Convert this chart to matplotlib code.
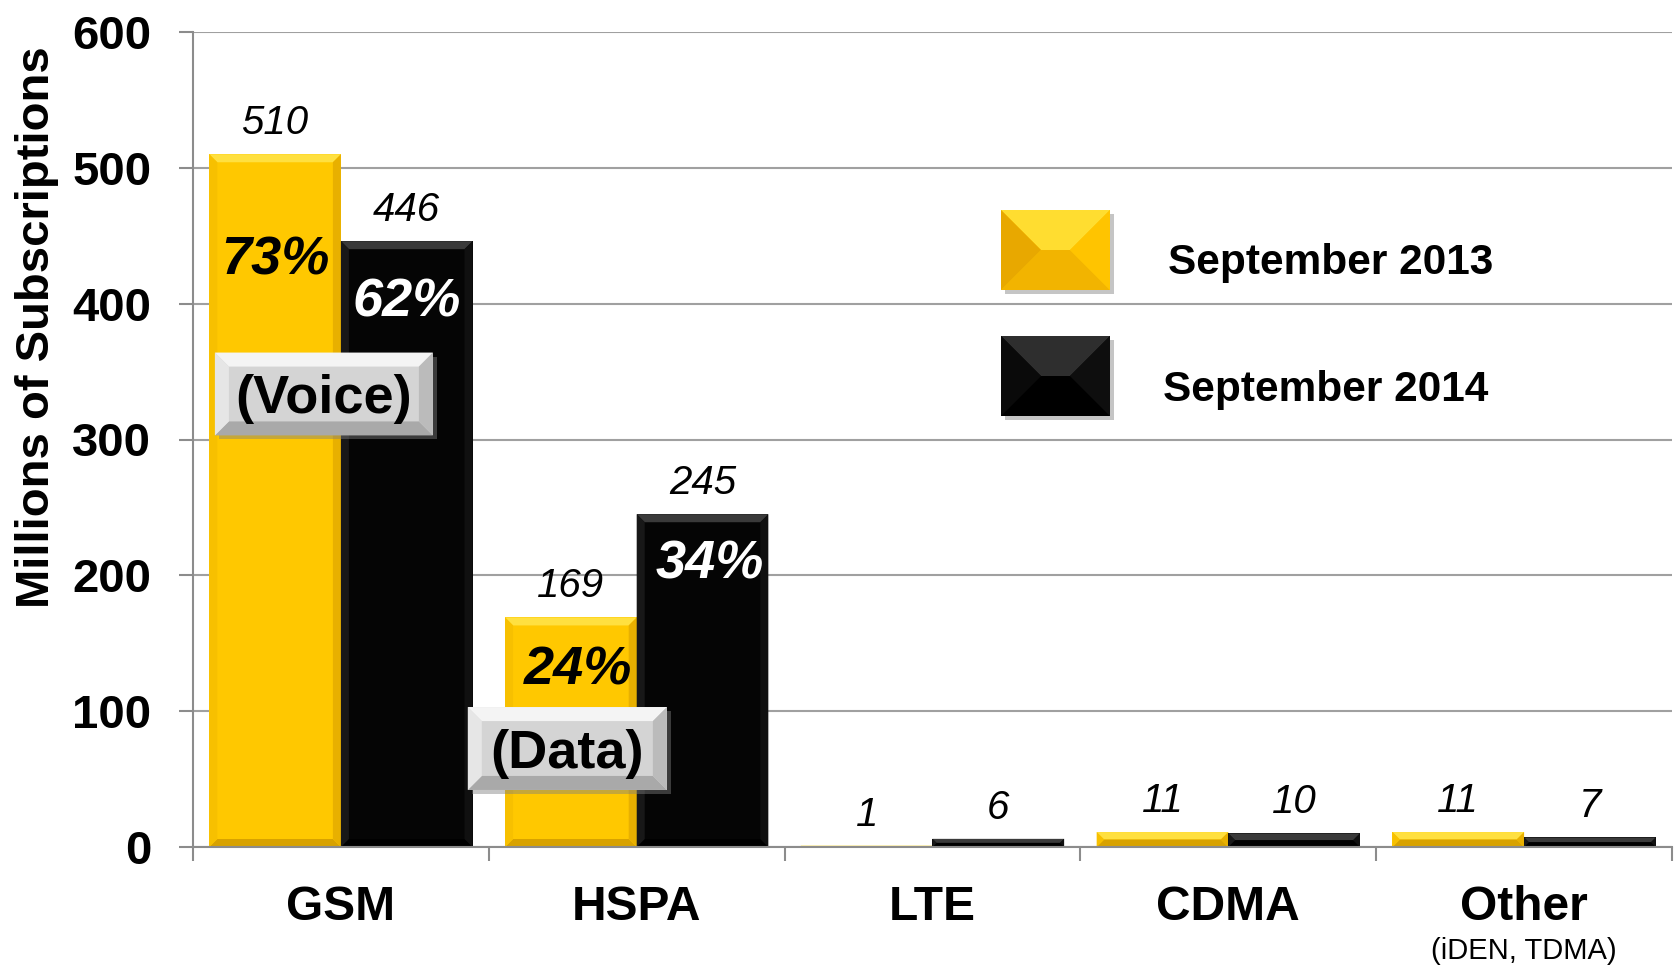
import matplotlib
matplotlib.use("Agg")
import matplotlib.pyplot as plt
from matplotlib.patches import Polygon, Rectangle
from matplotlib.transforms import IdentityTransform
from matplotlib import font_manager

# --- data ---
categories = ["GSM", "HSPA", "LTE", "CDMA", "Other"]
sub_labels = ["", "", "", "", "(iDEN, TDMA)"]
sep_2013 = [510, 169, 1, 11, 11]
sep_2014 = [446, 245, 6, 10, 7]
series_names = ["September 2013", "September 2014"]

# share labels inside the GSM / HSPA bars (text, y position in data units)
pct_2013 = ["73%", "24%"]
pct_2014 = ["62%", "34%"]
pct_y_2013 = [432, 130]
pct_y_2014 = [401, 208]
pct_dx = [0.0, 0.025]

# grey call-out boxes: text, x range, y range (data units)
callouts = [("(Voice)", (-0.426, 0.311), (303, 364)),
            ("(Data)", (0.429, 1.102), (42, 103))]

W, H = 1681, 973
YELLOW = dict(face="#FFC800", top="#FFE040", left="#F7C000", right="#E8B000", bottom="#D8A200")
BLACK = dict(face="#050505", top="#3A3A3A", left="#181818", right="#101010", bottom="#000000")
GREY = dict(face="#D4D4D4", top="#F4F4F4", left="#E6E6E6", right="#BBBBBB", bottom="#A9A9A9")

names = {f.name for f in font_manager.fontManager.ttflist}
BASE = "Liberation Sans"
NARROW = "Liberation Sans Narrow" if "Liberation Sans Narrow" in names else BASE
cat_size = 40 if NARROW != BASE else 34.5
plt.rcParams["font.family"] = [BASE, "DejaVu Sans"]

fig = plt.figure(figsize=(W / 100, H / 100), dpi=100)
ax = fig.add_axes([193 / W, 1 - 847 / H, 1479 / W, 815 / H])


def bevel(add, x0, y0, x1, y1, c, b, z, shadow=False):
    """Draw a bevelled rectangle in display pixels (y upwards)."""
    b = min(b, (x1 - x0) / 2, (y1 - y0) / 2)
    kw = dict(transform=IdentityTransform(), lw=0, zorder=z, clip_on=False)
    if shadow:
        add(Rectangle((x0 + 4, y0 - 4), x1 - x0, y1 - y0, fc="#7F7F7F", alpha=0.45, **kw))
    add(Rectangle((x0, y0), x1 - x0, y1 - y0, fc=c["face"], **kw))
    add(Polygon([(x0, y1), (x1, y1), (x1 - b, y1 - b), (x0 + b, y1 - b)], fc=c["top"], **kw))
    add(Polygon([(x0, y0), (x1, y0), (x1 - b, y0 + b), (x0 + b, y0 + b)], fc=c["bottom"], **kw))
    add(Polygon([(x0, y0), (x0, y1), (x0 + b, y1 - b), (x0 + b, y0 + b)], fc=c["left"], **kw))
    add(Polygon([(x1, y0), (x1, y1), (x1 - b, y1 - b), (x1 - b, y0 + b)], fc=c["right"], **kw))


x = list(range(len(categories)))
bw = 0.445
bars1 = ax.bar([i - bw / 2 for i in x], sep_2013, bw, color=YELLOW["face"], zorder=2)
bars2 = ax.bar([i + bw / 2 for i in x], sep_2014, bw, color=BLACK["face"], zorder=2)

ax.set_xlim(-0.5, len(categories) - 0.5)
ax.set_ylim(0, 600)

# bevels on the bars
for bars, c in ((bars1, YELLOW), (bars2, BLACK)):
    for r in bars:
        (px0, py0), (px1, py1) = ax.transData.transform(
            [(r.get_x(), 0), (r.get_x() + r.get_width(), r.get_height())])
        bevel(ax.add_patch, px0, py0, px1, py1, c, 8, 2.1)

# value labels
for bars, vals in ((bars1, sep_2013), (bars2, sep_2014)):
    for r, v in zip(bars, vals):
        ax.annotate(str(v), (r.get_x() + r.get_width() / 2, v), xytext=(0, 31),
                    textcoords="offset pixels", ha="center", va="center",
                    fontsize=29, style="italic", zorder=3)

# percentages
for i, (t, y) in enumerate(zip(pct_2013, pct_y_2013)):
    ax.text(i - bw / 2 + pct_dx[i], y, t, ha="center", va="center", fontsize=39,
            weight="bold", style="italic", color="black", zorder=3)
for i, (t, y) in enumerate(zip(pct_2014, pct_y_2014)):
    ax.text(i + bw / 2 + pct_dx[i], y, t, ha="center", va="center", fontsize=39,
            weight="bold", style="italic", color="white", zorder=3)

# call-out boxes
for t, (xa, xb), (ya, yb) in callouts:
    (px0, py0), (px1, py1) = ax.transData.transform([(xa, ya), (xb, yb)])
    bevel(ax.add_patch, px0, py0, px1, py1, GREY, 14, 4, shadow=True)
    ax.text((xa + xb) / 2, (ya + yb) / 2 - 4, t, ha="center", va="center",
            fontsize=39, weight="bold", zorder=5)

# axes styling
for s in ("top", "right"):
    ax.spines[s].set_visible(False)
for s in ("left", "bottom"):
    ax.spines[s].set_color("#8C8C8C")
    ax.spines[s].set_linewidth(1.5)
ax.yaxis.grid(True, color="#A0A0A0", lw=1.5)
ax.set_axisbelow(True)
ax.set_yticks(range(0, 601, 100))
ax.tick_params(axis="y", direction="out", length=10, width=1.5, color="#8C8C8C",
               pad=20, labelsize=34)
for lab in ax.get_yticklabels():
    lab.set_fontweight("bold")

ax.set_xticks([i - 0.5 for i in range(len(categories) + 1)])
ax.set_xticklabels([])
ax.tick_params(axis="x", direction="out", length=10, width=1.5, color="#8C8C8C")

for i, (c, s) in enumerate(zip(categories, sub_labels)):
    ax.annotate(c, (i, 0), xycoords=("data", "axes fraction"), xytext=(0, -73),
                textcoords="offset pixels", ha="center", va="baseline",
                fontsize=cat_size, weight="bold", family=[NARROW, "DejaVu Sans"])
    if s:
        ax.annotate(s, (i, 0), xycoords=("data", "axes fraction"), xytext=(0, -112),
                    textcoords="offset pixels", ha="center", va="baseline",
                    fontsize=23 if NARROW != BASE else 21, family=[NARROW, "DejaVu Sans"])

fig.text(37 / W, 1 - 327 / H, "Millions of Subscriptions", rotation=90,
         ha="center", va="center", fontsize=34, weight="bold")

# legend (bevelled swatches)
leg_boxes = [(1001, 210, 1110, 290), (1001, 336, 1110, 416)]
leg_text = [(1168, 263), (1163, 390)]
for (x0, y0, x1, y1), (tx, ty), name, c in zip(leg_boxes, leg_text, series_names, (YELLOW, BLACK)):
    c2 = dict(c)
    if c is YELLOW:
        c2.update(top="#FFDD30", left="#E8A800", right="#FFC400", bottom="#F2B400")
    else:
        c2.update(top="#2E2E2E", left="#0A0A0A", right="#0E0E0E", bottom="#000000")
    bevel(fig.add_artist, x0, H - y1, x1, H - y0, c2, (y1 - y0) / 2, 3, shadow=True)
    fig.text(tx / W, 1 - ty / H, name, ha="left", va="center", fontsize=30.5, weight="bold")

fig.savefig("out.png", dpi=100)
